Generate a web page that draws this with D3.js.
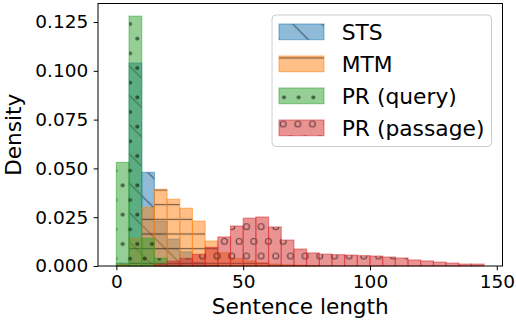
<!DOCTYPE html>
<html>
<head>
<meta charset="utf-8">
<script src="https://cdn.jsdelivr.net/npm/d3@7"></script>
<style>
  html, body { margin: 0; padding: 0; background: #ffffff; }
  svg { display: block; font-family: "DejaVu Sans", sans-serif; }
</style>
</head>
<body>
<svg id="chart" width="516" height="323"></svg>
<script>
// Histogram bins: left edges, width 5 words
const binWidth = 5;
const binStarts = [0, 5, 10, 15, 20, 25, 30, 35, 40, 45, 50, 55, 60, 65, 70,
                   75, 80, 85, 90, 95, 100, 105, 110, 115, 120, 125, 130, 135, 140];

// Density per bin for each dataset
const stsDensity = [0.0015, 0.104, 0.048, 0.023, 0.0138, 0.0073, 0.002, 0.0005, 0, 0,
                    0, 0, 0, 0, 0, 0, 0, 0, 0, 0, 0, 0, 0, 0, 0, 0, 0, 0, 0];
const mtmDensity = [0.001, 0.0142, 0.030, 0.0393, 0.0342, 0.0296, 0.023, 0.0128, 0.0068, 0.0039,
                    0.0026, 0.0017, 0.001, 0.0006, 0.0004, 0.0002, 0, 0, 0, 0,
                    0, 0, 0, 0, 0, 0, 0, 0, 0];
const queryDensity = [0.0531, 0.128, 0.0142, 0.004, 0.0004, 0, 0, 0, 0, 0,
                      0, 0, 0, 0, 0, 0, 0, 0, 0, 0, 0, 0, 0, 0, 0, 0, 0, 0, 0];
const passageDensity = [0, 0, 0, 0.001, 0.0025, 0.0039, 0.006, 0.0096, 0.0149, 0.0205,
                        0.0245, 0.0251, 0.020, 0.0133, 0.0087, 0.0067, 0.0061, 0.0058, 0.0056, 0.0053,
                        0.0051, 0.0046, 0.0041, 0.0031, 0.0026, 0.0020, 0.0015, 0.0010, 0.0010];

const seriesNames = ["STS", "MTM", "PR (query)", "PR (passage)"];
const seriesColors = ["#1f77b4", "#ff7f0e", "#2ca02c", "#d62728"];
const seriesHatches = ["diag", "horiz", "dots", "rings"];
const seriesValues = [stsDensity, mtmDensity, queryDensity, passageDensity];

const xTicks = [0, 50, 100, 150];
const yTicks = [0, 0.025, 0.05, 0.075, 0.1, 0.125];
const xLabel = "Sentence length";
const yLabel = "Density";

const svg = d3.select("#chart");
const plot = { left: 98, right: 502.5, top: 3.5, bottom: 266 };

const x = d3.scaleLinear().domain([-7.25, 152.25]).range([plot.left, plot.right]);
const y = d3.scaleLinear().domain([0, 0.1345]).range([plot.bottom, plot.top]);

// ---- hatch patterns (user space so they line up across bars) ----
const defs = svg.append("defs");
const U = 88;            // hatch unit cell
const step = U / 6;      // 6 lines / rows per unit
const hatchInk = "#000";
const hatchOpacity = 0.55;
const hatchWidth = 1.15;

// '\\' diagonal lines
{
  const P = U / 3;
  const p = defs.append("pattern").attr("id", "diag")
    .attr("patternUnits", "userSpaceOnUse")
    .attr("x", 0).attr("y", 24.6).attr("width", P).attr("height", P);
  const g = p.append("g").attr("opacity", hatchOpacity);
  [-1, 0, 1].forEach(k => {
    g.append("line").attr("x1", 0).attr("y1", k * P).attr("x2", P).attr("y2", P + k * P)
      .attr("stroke", hatchInk).attr("stroke-width", hatchWidth);
  });
}
// '-' horizontal lines
{
  const p = defs.append("pattern").attr("id", "horiz")
    .attr("patternUnits", "userSpaceOnUse")
    .attr("x", 0).attr("y", 14.0 - step / 2).attr("width", 10).attr("height", step);
  p.append("line").attr("x1", 0).attr("y1", step / 2).attr("x2", 10).attr("y2", step / 2)
    .attr("stroke", hatchInk).attr("stroke-opacity", hatchOpacity).attr("stroke-width", hatchWidth);
}
// staggered circle grids ('.' filled, 'o' open)
function circleGrid(id, ox, oy, r, filled) {
  const p = defs.append("pattern").attr("id", id)
    .attr("patternUnits", "userSpaceOnUse")
    .attr("x", ox).attr("y", oy).attr("width", step).attr("height", 2 * step);
  const g = p.append("g").attr("opacity", hatchOpacity);
  [[step / 4, step / 2], [step * 3 / 4, step * 1.5]].forEach(([cx, cy]) => {
    g.append("circle").attr("cx", cx).attr("cy", cy).attr("r", r)
      .attr("fill", filled ? hatchInk : "none")
      .attr("stroke", hatchInk).attr("stroke-width", hatchWidth);
  });
}
circleGrid("dots", 130 - step / 4, 24 - step / 2, step * 0.1, true);
circleGrid("rings", 231.8 - step / 4, 226.7 - step / 2, step * 0.2, false);

// ---- bars ----
const barsLayer = svg.append("g");
seriesValues.forEach((vals, si) => {
  const data = binStarts.map((s, i) => ({ s, v: vals[i] })).filter(d => d.v > 0);
  const g = barsLayer.append("g");
  const bar = g.selectAll("g").data(data).join("g");
  const rx = d => x(d.s), rw = d => x(d.s + binWidth) - x(d.s);
  const ry = d => y(d.v), rh = d => y(0) - y(d.v);
  bar.append("rect").attr("x", rx).attr("y", ry).attr("width", rw).attr("height", rh)
    .attr("fill", seriesColors[si]).attr("fill-opacity", 0.5);
  bar.append("rect").attr("x", rx).attr("y", ry).attr("width", rw).attr("height", rh)
    .attr("fill", `url(#${seriesHatches[si]})`);
  bar.append("rect").attr("x", rx).attr("y", ry).attr("width", rw).attr("height", rh)
    .attr("fill", "none").attr("stroke", seriesColors[si]).attr("stroke-opacity", 0.5)
    .attr("stroke-width", 1.1);
});

// ---- axes ----
const tickFont = 18.5;
const xAxis = svg.append("g").attr("transform", `translate(0,${plot.bottom})`)
  .call(d3.axisBottom(x).tickValues(xTicks).tickFormat(d3.format("d"))
    .tickSize(4.3).tickPadding(4.7));
const yAxis = svg.append("g").attr("transform", `translate(${plot.left},0)`)
  .call(d3.axisLeft(y).tickValues(yTicks).tickFormat(d3.format(".3f"))
    .tickSize(4.3).tickPadding(5.4));
[xAxis, yAxis].forEach(a => {
  a.select(".domain").remove();
  a.selectAll(".tick line").attr("stroke", "#000").attr("stroke-width", 1);
  a.selectAll(".tick text").attr("fill", "#000")
    .style("font-family", "DejaVu Sans").style("font-size", tickFont + "px");
});

// spines
svg.append("rect")
  .attr("x", plot.left).attr("y", plot.top)
  .attr("width", plot.right - plot.left).attr("height", plot.bottom - plot.top)
  .attr("fill", "none").attr("stroke", "#000").attr("stroke-width", 1);

// axis labels
const labelFont = 21.6;
svg.append("text").attr("x", (plot.left + plot.right) / 2).attr("y", 314)
  .attr("text-anchor", "middle").style("font-size", labelFont + "px").attr("fill", "#000")
  .text(xLabel);
svg.append("text").attr("transform", `translate(20.5,${(plot.top + plot.bottom) / 2}) rotate(-90)`)
  .attr("text-anchor", "middle").style("font-size", labelFont + "px").attr("fill", "#000")
  .text(yLabel);

// ---- legend ----
const legend = svg.append("g");
legend.append("rect").attr("x", 272).attr("y", 15).attr("width", 219.5).attr("height", 131.5)
  .attr("rx", 4).attr("fill", "#fff").attr("fill-opacity", 0.8)
  .attr("stroke", "#cccccc").attr("stroke-width", 1);
seriesNames.forEach((name, i) => {
  const top = 24 + i * 32;
  const item = legend.append("g");
  const px = 279, pw = 45, ph = 15.7;
  item.append("rect").attr("x", px).attr("y", top).attr("width", pw).attr("height", ph)
    .attr("fill", seriesColors[i]).attr("fill-opacity", 0.5);
  item.append("rect").attr("x", px).attr("y", top).attr("width", pw).attr("height", ph)
    .attr("fill", `url(#${seriesHatches[i]})`);
  item.append("rect").attr("x", px).attr("y", top).attr("width", pw).attr("height", ph)
    .attr("fill", "none").attr("stroke", seriesColors[i]).attr("stroke-opacity", 0.5)
    .attr("stroke-width", 1.1);
  item.append("text").attr("x", 341.7).attr("y", top + 16)
    .style("font-size", "21.8px").attr("fill", "#000").text(name);
});
</script>
</body>
</html>
